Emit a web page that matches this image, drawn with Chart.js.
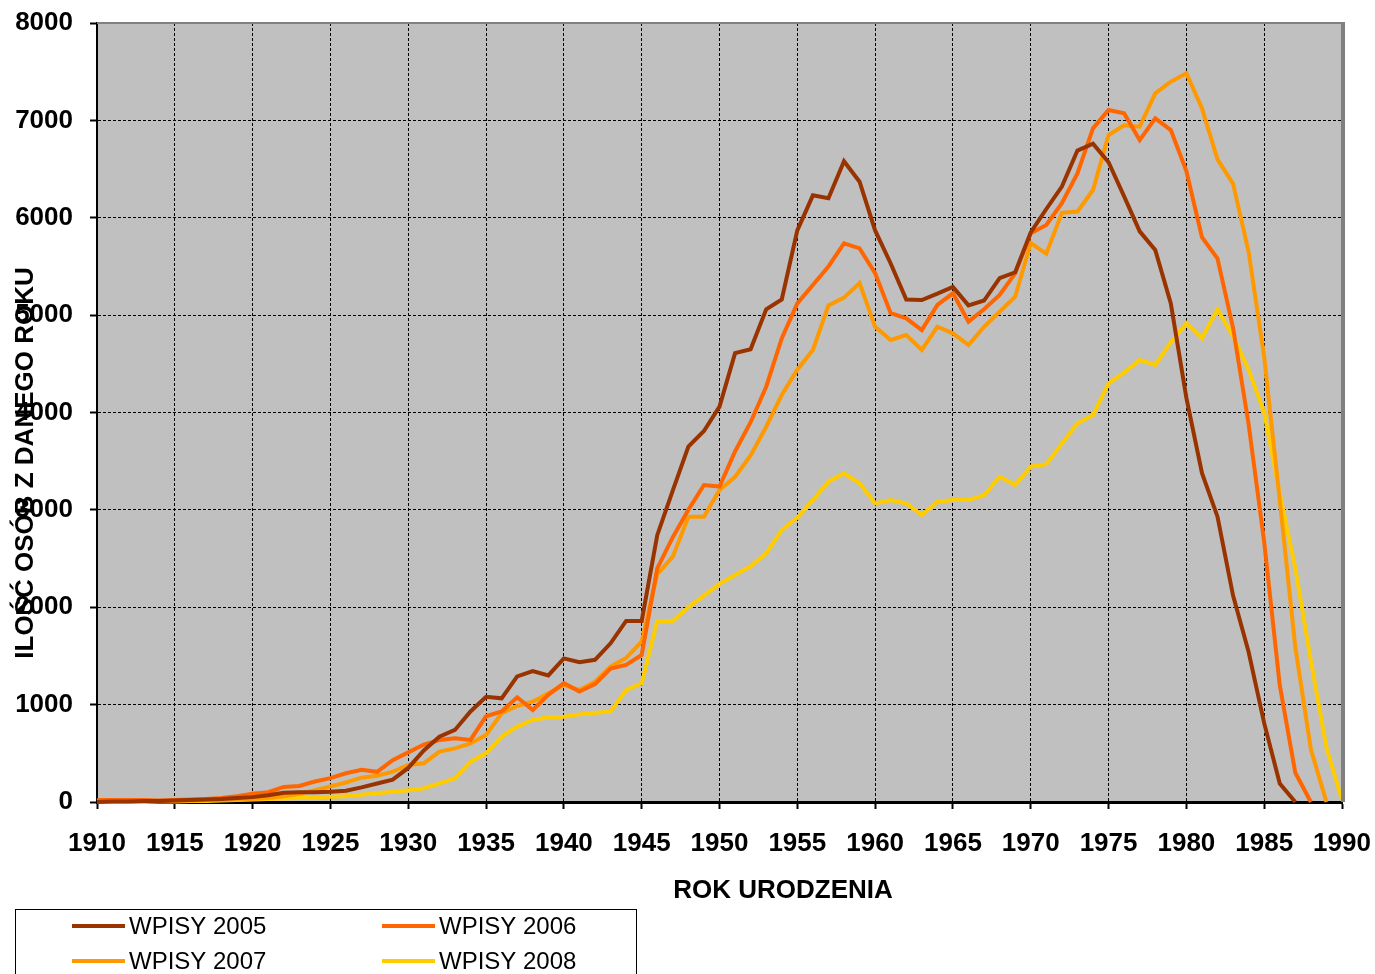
<!DOCTYPE html>
<html lang="pl">
<head>
  <meta charset="UTF-8">
  <title>Wpisy wg roku urodzenia</title>
  <style>
    body { margin: 0; background: #fff; }
    #wrap { width: 1375px; height: 974px; }
  </style>
</head>
<body>

<div id="wrap"><canvas id="chart"></canvas></div>

<script src="https://cdn.jsdelivr.net/npm/chart.js"></script>
<script>
  // rok urodzenia (os X)
  var lata = [
    1910, 1911, 1912, 1913, 1914, 1915, 1916, 1917, 1918, 1919,
    1920, 1921, 1922, 1923, 1924, 1925, 1926, 1927, 1928, 1929,
    1930, 1931, 1932, 1933, 1934, 1935, 1936, 1937, 1938, 1939,
    1940, 1941, 1942, 1943, 1944, 1945, 1946, 1947, 1948, 1949,
    1950, 1951, 1952, 1953, 1954, 1955, 1956, 1957, 1958, 1959,
    1960, 1961, 1962, 1963, 1964, 1965, 1966, 1967, 1968, 1969,
    1970, 1971, 1972, 1973, 1974, 1975, 1976, 1977, 1978, 1979,
    1980, 1981, 1982, 1983, 1984, 1985, 1986, 1987, 1988, 1989,
    1990
  ];

  // ilosc osob z danego roku
  var wpisy2005 = [
    0, 5, 5, 10, 10, 15, 20, 25, 30, 40,
    50, 70, 95, 100, 100, 105, 115, 150, 190, 230,
    350, 530, 670, 740, 930, 1080, 1065, 1290, 1345, 1300,
    1475, 1435, 1460, 1630, 1860, 1860, 2740, 3200, 3650, 3810,
    4060, 4610, 4650, 5060, 5160, 5870, 6230, 6200, 6580, 6370,
    5870, 5530, 5160, 5155, 5220, 5290, 5100, 5150, 5380, 5440,
    5850, 6090, 6320, 6690, 6760, 6570, 6220, 5860, 5670, 5120,
    4150, 3380, 2930, 2120, 1540, 810, 190, 0, null, null,
    null
  ];
  var wpisy2006 = [
    20, 20, 20, 20, 15, 20, 25, 30, 40, 60,
    85, 100, 155, 165, 210, 245, 295, 330, 310, 430,
    510, 590, 637, 655, 637, 880, 930, 1075, 945, 1100,
    1220, 1135, 1210, 1370, 1407, 1510, 2400, 2720, 3000, 3255,
    3240, 3600, 3900, 4265, 4760, 5120, 5310, 5500, 5738, 5686,
    5430, 5020, 4967, 4847, 5104, 5224, 4933, 5060, 5207, 5429,
    5840, 5926, 6150, 6456, 6918, 7107, 7073, 6798, 7021, 6900,
    6480, 5800, 5580, 4870, 3880, 2670, 1200, 300, 0, null,
    null
  ];
  var wpisy2007 = [
    10, 10, 10, 10, 10, 10, 15, 20, 20, 25,
    30, 40, 60, 85, 120, 160, 200, 250, 270, 311,
    380, 397, 517, 551, 603, 688, 911, 986, 1030, 1116,
    1202, 1150, 1236, 1390, 1480, 1646, 2340, 2520, 2930, 2930,
    3204, 3340, 3560, 3854, 4180, 4440, 4642, 5100, 5180, 5330,
    4880, 4745, 4796, 4642, 4881, 4813, 4693, 4880, 5035, 5189,
    5740, 5630, 6050, 6063, 6285, 6850, 6950, 6935, 7278, 7398,
    7484, 7124, 6600, 6350, 5650, 4570, 3100, 1590, 540, 0,
    null
  ];
  var wpisy2008 = [
    0, 0, 0, 0, 5, 5, 10, 10, 15, 20,
    25, 30, 35, 40, 45, 55, 60, 75, 90, 105,
    120, 140, 192, 243, 414, 500, 671, 774, 842, 870,
    876, 900, 917, 928, 1150, 1219, 1860, 1860, 2000, 2120,
    2240, 2330, 2420, 2554, 2793, 2920, 3100, 3290, 3376, 3273,
    3067, 3101, 3067, 2947, 3084, 3101, 3101, 3150, 3341, 3255,
    3444, 3470, 3680, 3890, 3974, 4300, 4410, 4539, 4488, 4720,
    4916, 4762, 5060, 4780, 4440, 4000, 3170, 2400, 1450, 560,
    20
  ];

  var etykiety = ['WPISY 2005', 'WPISY 2006', 'WPISY 2007', 'WPISY 2008'];
  var kolory = ['#993300', '#FF6600', '#FF9900', '#FFCC00'];
  var serie = [wpisy2005, wpisy2006, wpisy2007, wpisy2008];

  var czcionka = '"Liberation Sans", Arial, sans-serif';

  function punkty(values) {
    return values.map(function(v, i) {
      return { x: lata[i], y: v };
    });
  }

  // szare tlo, ramka, tytuly osi i legenda
  var dodatki = {
    id: 'dodatki',
    beforeDraw: function(chart) {
      var ctx = chart.ctx, a = chart.chartArea;
      ctx.save();
      ctx.fillStyle = '#ffffff';
      ctx.fillRect(0, 0, chart.width, chart.height);
      ctx.fillStyle = '#c0c0c0';
      ctx.fillRect(a.left, a.top, a.right - a.left, a.bottom - a.top);
      ctx.restore();
    },
    afterDraw: function(chart) {
      var ctx = chart.ctx, a = chart.chartArea;
      ctx.save();

      // gorna i prawa krawedz
      ctx.strokeStyle = '#808080';
      ctx.lineWidth = 2;
      ctx.beginPath();
      ctx.moveTo(a.left, a.top);
      ctx.lineTo(a.right, a.top);
      ctx.stroke();
      ctx.lineWidth = 4;
      ctx.beginPath();
      ctx.moveTo(a.right + 1, a.top - 1);
      ctx.lineTo(a.right + 1, a.bottom);
      ctx.stroke();

      // tytuly osi
      ctx.fillStyle = '#000';
      ctx.font = 'bold 26px ' + czcionka;
      ctx.textAlign = 'center';
      ctx.textBaseline = 'middle';
      ctx.fillText('ROK URODZENIA', 783, 891);
      ctx.save();
      ctx.translate(26, 463);
      ctx.rotate(-Math.PI / 2);
      ctx.fillText('ILOŚĆ OSÓB Z DANEGO ROKU', 0, 0);
      ctx.restore();

      // legenda
      ctx.strokeStyle = '#000';
      ctx.lineWidth = 1;
      ctx.strokeRect(15.5, 909.5, 621, 80);
      ctx.font = '24px ' + czcionka;
      ctx.textAlign = 'left';
      var kolX = [72, 382], wierszY = [926, 961];
      for (var i = 0; i < etykiety.length; i++) {
        var x = kolX[i % 2], y = wierszY[Math.floor(i / 2)];
        ctx.strokeStyle = kolory[i];
        ctx.lineWidth = 4;
        ctx.beginPath();
        ctx.moveTo(x, y);
        ctx.lineTo(x + 53, y);
        ctx.stroke();
        ctx.fillStyle = '#000';
        ctx.fillText(etykiety[i], x + 57, y + 1);
      }
      ctx.restore();
    }
  };

  var zbiory = serie.map(function(s, i) {
    return {
      label: etykiety[i],
      data: punkty(s),
      borderColor: kolory[i],
      backgroundColor: kolory[i],
      borderWidth: 4,
      pointRadius: 0,
      tension: 0,
      fill: false,
      clip: false
    };
  });

  var ctx = document.getElementById('chart').getContext('2d');
  var chart = new Chart(ctx, {
    type: 'line',
    data: { datasets: zbiory },
    options: {
      responsive: true,
      maintainAspectRatio: false,
      animation: false,
      layout: { padding: { left: 0, top: 23, right: 33, bottom: 0 } },
      plugins: {
        legend: { display: false },
        tooltip: { enabled: false }
      },
      scales: {
        x: {
          type: 'linear',
          min: 1910,
          max: 1990,
          afterFit: function(s) {
            s.height = 172;
            s.paddingLeft = 0;
            s.paddingRight = 0;
          },
          ticks: {
            stepSize: 5,
            autoSkip: false,
            maxRotation: 0,
            padding: 19,
            color: '#000',
            font: { family: czcionka, size: 26, weight: 'bold' },
            callback: function(v) { return String(v); }
          },
          grid: {
            color: '#000',
            lineWidth: 1,
            tickColor: '#000',
            tickLength: 7,
            tickWidth: 2,
            tickBorderDash: []
          },
          border: { display: true, color: '#000', width: 3, dash: [3, 2] }
        },
        y: {
          min: 0,
          max: 8000,
          afterFit: function(s) {
            s.width = 97;
            s.paddingTop = 0;
            s.paddingBottom = 0;
          },
          ticks: {
            stepSize: 1000,
            padding: 17,
            color: '#000',
            font: { family: czcionka, size: 26, weight: 'bold' },
            callback: function(v) { return String(v); }
          },
          grid: {
            color: function(c) {
              return c.tick && c.tick.value === 8000 ? 'rgba(0,0,0,0)' : '#000';
            },
            lineWidth: 1,
            tickColor: '#000',
            tickLength: 7,
            tickWidth: 2,
            tickBorderDash: []
          },
          border: { display: true, color: '#000', width: 2, dash: [3, 2] }
        }
      }
    },
    plugins: [dodatki]
  });
</script>

</body>
</html>
